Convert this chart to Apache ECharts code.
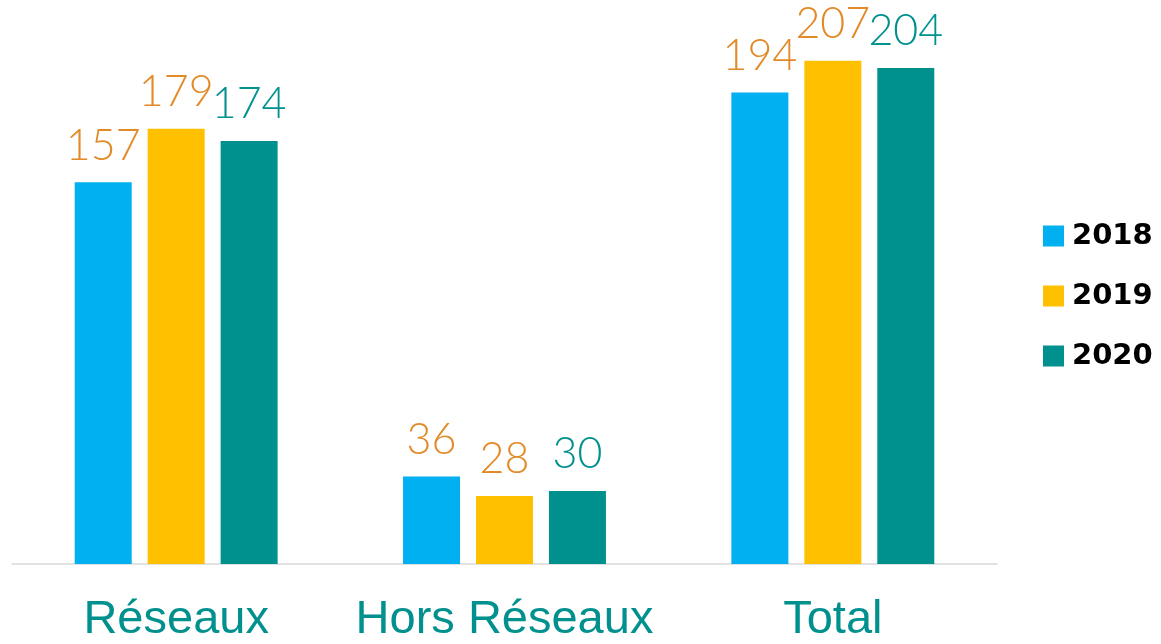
<!DOCTYPE html>
<html>
<head>
<meta charset="utf-8">
<script src="https://cdn.jsdelivr.net/npm/echarts@6/dist/echarts.min.js"></script>
<style>
  html, body { margin: 0; padding: 0; background: #fff; }
  #chart { width: 1161px; height: 644px; }
</style>
</head>
<body>
<div id="chart"></div>
<script>
// Grouped bars, three years per category, value labels above each bar.
const categories = ['Réseaux', 'Hors Réseaux', 'Total'];
const years = ['2018', '2019', '2020'];
const values2018 = [157, 36, 194];
const values2019 = [179, 28, 207];
const values2020 = [174, 30, 204];

const BAR_COLORS = ['#00B0F0', '#FFC000', '#00918E'];
const LABEL_COLORS = ['#E28A27', '#E28A27', '#00918E'];
const TEAL = '#00918E';

const chart = echarts.init(document.getElementById('chart'), null, { renderer: 'canvas' });

function barSeries(name, data, i) {
  return {
    name: name,
    type: 'bar',
    data: data,
    barWidth: 57,
    barGap: '28%',
    itemStyle: { color: BAR_COLORS[i] },
    label: {
      show: true,
      position: 'top',
      distance: 15,
      color: LABEL_COLORS[i],
      fontFamily: 'Lato',
      fontWeight: 300,
      fontSize: 43,
    },
  };
}

chart.setOption({
  backgroundColor: '#fff',
  animation: false,
  grid: { left: 12, right: 164, top: 0, bottom: 79, containLabel: false },
  legend: {
    orient: 'vertical',
    left: 1043,
    top: 221,
    padding: 0,
    icon: 'rect',
    itemWidth: 21,
    itemHeight: 21,
    itemGap: 30,
    data: years,
    textStyle: {
      color: '#000',
      fontFamily: 'DejaVu Sans',
      fontWeight: 'bold',
      fontSize: 29,
      lineHeight: 30,
      padding: [0, 0, 0, 3],
    },
  },
  xAxis: {
    type: 'category',
    data: categories,
    axisLine: { lineStyle: { color: '#D9D9D9', width: 1.5 } },
    axisTick: { show: false },
    axisLabel: {
      interval: 0,
      hideOverlap: false,
      color: TEAL,
      fontFamily: 'Liberation Sans',
      fontSize: 47,
      margin: 33,
    },
  },
  yAxis: {
    type: 'value',
    min: 0,
    max: 232,
    show: false,
    splitLine: { show: false },
  },
  series: [
    barSeries(years[0], values2018, 0),
    barSeries(years[1], values2019, 1),
    barSeries(years[2], values2020, 2),
  ],
});
</script>
</body>
</html>
